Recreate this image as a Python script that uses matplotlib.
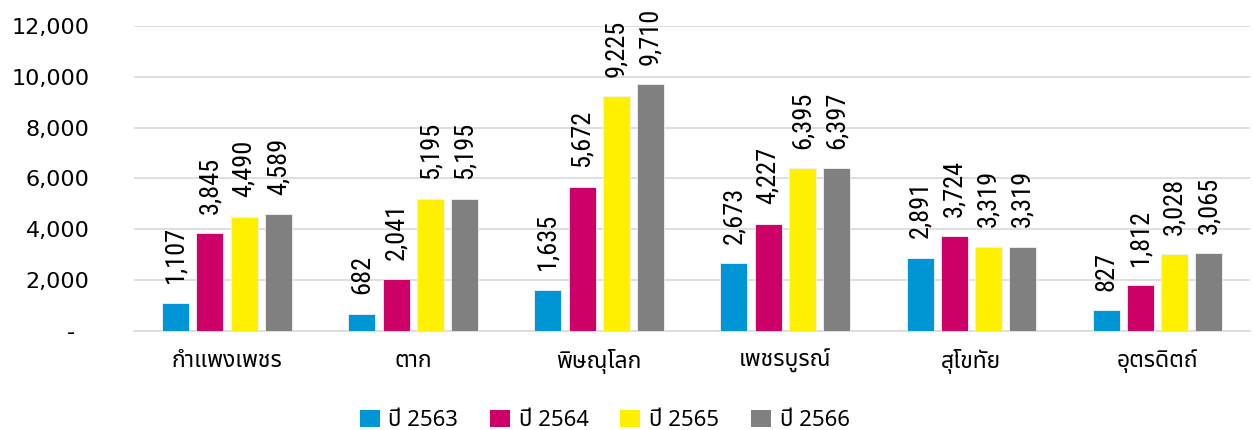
import matplotlib
matplotlib.use("Agg")
import matplotlib.pyplot as plt
import numpy as np
from matplotlib import font_manager
from matplotlib.ft2font import FT2Font
from matplotlib.patches import Patch

# ---------------- data ----------------
provinces = ["กำแพงเพชร", "ตาก", "พิษณุโลก", "เพชรบูรณ์", "สุโขทัย", "อุตรดิตถ์"]
series_names = ["ปี 2563", "ปี 2564", "ปี 2565", "ปี 2566"]
y2563 = [1107, 682, 1635, 2673, 2891, 827]
y2564 = [3845, 2041, 5672, 4227, 3724, 1812]
y2565 = [4490, 5195, 9225, 6395, 3319, 3028]
y2566 = [4589, 5195, 9710, 6397, 3319, 3065]
yticks = [0, 2000, 4000, 6000, 8000, 10000, 12000]
colors = ["#0096D6", "#CC0066", "#FFF000", "#808080"]

# ---------------- fonts ----------------
thai_cands = {}
for f in font_manager.fontManager.ttflist:
    try:
        ft = FT2Font(f.fname)
        if 0x0E01 in ft.get_charmap():
            thai_cands.setdefault(f.name, f.fname)
    except Exception:
        pass
thai_font = None
for p in ["Tahoma", "Noto Sans Thai", "Noto Sans Thai UI", "Loma", "Garuda",
          "Sarabun", "Kinnari", "Norasi", "Umpush", "Waree", "Noto Serif Thai"]:
    if p in thai_cands:
        thai_font = p
        break
if thai_font is None and thai_cands:
    thai_font = sorted(thai_cands)[0]
thai_family = ([thai_font] if thai_font else []) + ["DejaVu Sans"]

installed = {f.name for f in font_manager.fontManager.ttflist}
label_family, label_size = "Liberation Sans", 14.5
for fam, sz in [("Liberation Sans Narrow", 17.5), ("Roboto Condensed", 19.0),
                ("Open Sans Condensed", 19.0)]:
    if fam in installed:
        label_family, label_size = fam, sz
        break

plt.rcParams["font.family"] = ["DejaVu Sans"]

# ---------------- figure ----------------
fig = plt.figure(figsize=(12.53, 4.30), dpi=100)
ax = fig.add_axes([0.107, 0.230, 0.891, 0.710])

x = np.arange(len(provinces))
width = 0.145
step = 0.184
all_series = [y2563, y2564, y2565, y2566]
for k, (vals, c) in enumerate(zip(all_series, colors)):
    xs = x + (k - 1.5) * step
    ax.bar(xs, vals, width=width, color=c, edgecolor="#F2F2F2", linewidth=0.6, zorder=3)
    for xi, v in zip(xs, vals):
        ax.annotate(f"{v:,}", (xi, v), xytext=(0, 14), textcoords="offset points",
                    ha="center", va="bottom", rotation=90, fontsize=label_size,
                    family=label_family, color="black", annotation_clip=False)

ax.set_xlim(-0.5, len(provinces) - 0.5)
ax.set_ylim(0, 12000)
ax.set_yticks(yticks)
ax.set_yticklabels(["-\u2007"] + [f"{t:,}" for t in yticks[1:]], fontsize=16)
ax.tick_params(axis="y", length=0, pad=32)
ax.set_xticks(x)
ax.set_xticklabels(provinces, family=thai_family, fontsize=16.5)
ax.tick_params(axis="x", length=0, pad=13)

ax.grid(axis="y", color="#D9D9D9", linewidth=1.2, zorder=0)
for s in ["top", "right", "left"]:
    ax.spines[s].set_visible(False)
ax.spines["bottom"].set_color("#D9D9D9")
ax.spines["bottom"].set_linewidth(1.2)

handles = [Patch(facecolor=c, edgecolor="none") for c in colors]
fig.legend(handles, series_names, loc="center", bbox_to_anchor=(0.4825, 0.022),
           ncol=4, frameon=False, prop={"family": thai_family, "size": 16},
           handlelength=0.9, handleheight=0.8, handletextpad=0.4, columnspacing=1.42,
           borderpad=0.2)

fig.savefig("out.png", dpi=100)
